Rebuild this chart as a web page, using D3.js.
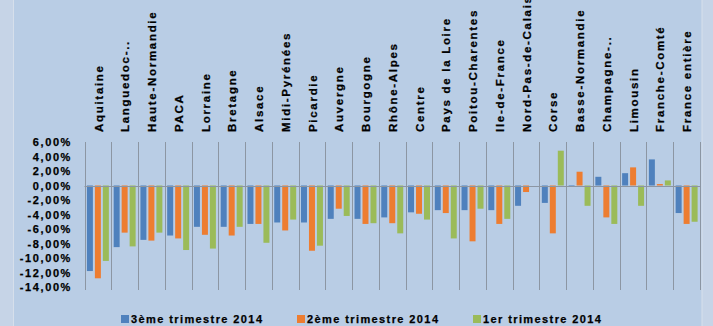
<!DOCTYPE html>
<html>
<head>
<meta charset="utf-8">
<script src="https://cdn.jsdelivr.net/npm/d3@7"></script>
<style>
  html, body { margin: 0; padding: 0; background: #c6d4e7; }
  svg { display: block; }
  text { font-family: "Liberation Sans", Arial, sans-serif; font-weight: bold; fill: #000; stroke: #000; stroke-width: 0.25px; }
</style>
</head>
<body>
<svg id="chart" width="713" height="326"></svg>
<script>
// Regions, sorted as in the chart
const regions = [
  "Aquitaine", "Languedoc-..", "Haute-Normandie", "PACA", "Lorraine", "Bretagne",
  "Alsace", "Midi-Pyrénées", "Picardie", "Auvergne", "Bourgogne", "Rhône-Alpes",
  "Centre", "Pays de la Loire", "Poitou-Charentes", "Ile-de-France",
  "Nord-Pas-de-Calais", "Corse", "Basse-Normandie", "Champagne-..", "Limousin",
  "Franche-Comté", "France entière"
];

// Quarterly change, in percent
const t3_2014 = [-11.8, -8.5, -7.5, -6.9, -5.7, -5.7, -5.3, -5.1, -5.1, -4.6, -4.6, -4.4,
                 -3.7, -3.4, -3.4, -3.4, -2.8, -2.4, -0.2, 1.2, 1.7, 3.6, -3.8];
const t2_2014 = [-12.8, -6.5, -7.6, -7.3, -6.8, -6.9, -5.3, -6.2, -9.0, -3.2, -5.3, -5.2,
                 -3.9, -3.8, -7.7, -5.3, -0.9, -6.6, 1.9, -4.4, 2.5, 0.2, -5.3];
const t1_2014 = [-10.4, -8.4, -6.5, -8.9, -8.7, -5.7, -7.9, -4.7, -8.3, -4.2, -5.2, -6.6,
                 -4.7, -7.3, -3.2, -4.6, 0, 4.8, -2.8, -5.3, -2.8, 0.7, -5.0];

const seriesNames = ["3ème trimestre 2014", "2ème trimestre 2014", "1er trimestre 2014"];
const seriesValues = [t3_2014, t2_2014, t1_2014];
const seriesColors = ["#4f81bd", "#ed7d31", "#9bbb59"];

const yTicks = [6, 4, 2, 0, -2, -4, -6, -8, -10, -12, -14];

const svg = d3.select("#chart");

// chart area background
svg.append("rect")
  .attr("x", 13.5).attr("y", -1)
  .attr("width", 688.5).attr("height", 330)
  .attr("fill", "#b9cde5")
  .attr("stroke", "#d6dfeb").attr("stroke-width", 1);

const x0 = d3.scaleBand().domain(regions).range([84.5, 700]).padding(0);
const x1 = d3.scaleBand().domain(seriesNames)
  .range([2.4, x0.bandwidth() - 2.4]).paddingInner(0.25).paddingOuter(0);
const y = d3.scaleLinear().domain([-14, 6]).range([287, 142]);

// vertical separators between regions
const seps = regions.map(r => x0(r)).concat([x0.range()[1]]);
svg.append("g").selectAll("line").data(seps).join("line")
  .attr("x1", d => Math.round(d) + 0.5).attr("x2", d => Math.round(d) + 0.5)
  .attr("y1", y(6)).attr("y2", y(-14) + 3)
  .attr("stroke", "#8c96a3").attr("stroke-width", 1);

// bars
const rows = [];
regions.forEach((r, i) => {
  seriesNames.forEach((s, k) => rows.push({ region: r, series: s, value: seriesValues[k][i], color: seriesColors[k] }));
});
svg.append("g").selectAll("rect").data(rows).join("rect")
  .attr("x", d => x0(d.region) + x1(d.series))
  .attr("width", x1.bandwidth())
  .attr("y", d => y(Math.max(0, d.value)))
  .attr("height", d => Math.abs(y(d.value) - y(0)))
  .attr("fill", d => d.color);

// zero line
svg.append("line")
  .attr("x1", x0.range()[0]).attr("x2", x0.range()[1])
  .attr("y1", Math.round(y(0)) + 0.5).attr("y2", Math.round(y(0)) + 0.5)
  .attr("stroke", "#8c96a3").attr("stroke-width", 1);

// y axis labels
const yAxis = d3.axisLeft(y).tickValues(yTicks).tickSize(0).tickPadding(0)
  .tickFormat(d => d3.format(".2f")(d).replace(".", ",").replace("−", "-") + "%");
const gy = svg.append("g").attr("transform", "translate(72,0)").call(yAxis);
gy.select(".domain").remove();
gy.selectAll("text")
  .attr("font-family", "Liberation Sans, Arial, sans-serif")
  .attr("font-weight", "bold")
  .attr("font-size", 11)
  .attr("letter-spacing", "1.6px")
  .attr("fill", "#000");

// region labels, rotated
svg.append("g").selectAll("text").data(regions).join("text")
  .attr("transform", d => `translate(${x0(d) + x0.bandwidth() / 2 + 0.5},132) rotate(-90)`)
  .attr("dy", "0.36em")
  .attr("font-size", 11.5)
  .attr("letter-spacing", "1.7px")
  .text(d => d);

// legend
const legendX = [121, 297, 473];
const lg = svg.append("g").selectAll("g").data(seriesNames).join("g")
  .attr("transform", (d, i) => `translate(${legendX[i]},315)`);
lg.append("rect").attr("width", 8).attr("height", 8)
  .attr("fill", (d, i) => seriesColors[i]);
lg.append("text").attr("x", 10).attr("y", 8)
  .attr("font-size", 11)
  .attr("letter-spacing", "1.4px")
  .text(d => d);
</script>
</body>
</html>
